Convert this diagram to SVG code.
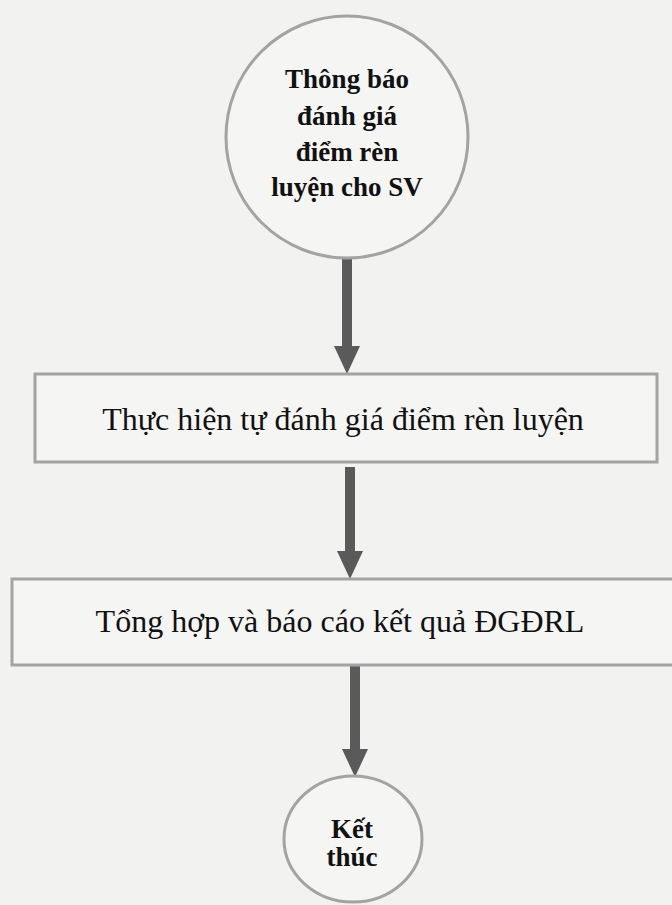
<svg xmlns="http://www.w3.org/2000/svg" width="672" height="905" viewBox="0 0 672 905">
<style>
.bg{fill:#f2f2f0}
.shape{fill:#f5f5f3;stroke:#a3a3a3;stroke-width:3}
.conn{stroke:#5a5a5a;stroke-width:10;fill:none;marker-end:url(#head)}
.bold{font-family:"Liberation Serif","Times New Roman",serif;font-weight:bold;font-size:27px;fill:#111;text-anchor:middle}
.reg{font-family:"Liberation Serif","Times New Roman",serif;font-size:32px;fill:#111;text-anchor:middle}
</style>
<defs>
<marker id="head" viewBox="0 0 28 26" refX="0" refY="13" markerWidth="28" markerHeight="26" markerUnits="userSpaceOnUse" orient="auto">
<path d="M0,0 L28,13 L0,26 Z" fill="#5a5a5a"/>
</marker>
</defs>
<rect class="bg" x="0" y="0" width="672" height="905"/>
<g id="connectors">
<line class="conn" x1="347" y1="259" x2="347" y2="346"/>
<line class="conn" x1="350" y1="467" x2="350" y2="551"/>
<line class="conn" x1="355" y1="666" x2="355" y2="749"/>
</g>
<g id="start">
<ellipse class="shape" cx="347" cy="137" rx="121" ry="121"/>
<text class="bold" x="347" y="88">Thông báo</text>
<text class="bold" x="347" y="125">đánh giá</text>
<text class="bold" x="347" y="161">điểm rèn</text>
<text class="bold" x="347" y="196">luyện cho SV</text>
</g>
<g id="step1">
<rect class="shape" x="35" y="374" width="622" height="88"/>
<text class="reg" x="343" y="430">Thực hiện tự đánh giá điểm rèn luyện</text>
</g>
<g id="step2">
<rect class="shape" x="12" y="579" width="670" height="86"/>
<text class="reg" x="340" y="632">Tổng hợp và báo cáo kết quả ĐGĐRL</text>
</g>
<g id="end">
<ellipse class="shape" cx="353" cy="839" rx="69" ry="63"/>
<text class="bold" x="352" y="838">Kết</text>
<text class="bold" x="352" y="866">thúc</text>
</g>
</svg>
